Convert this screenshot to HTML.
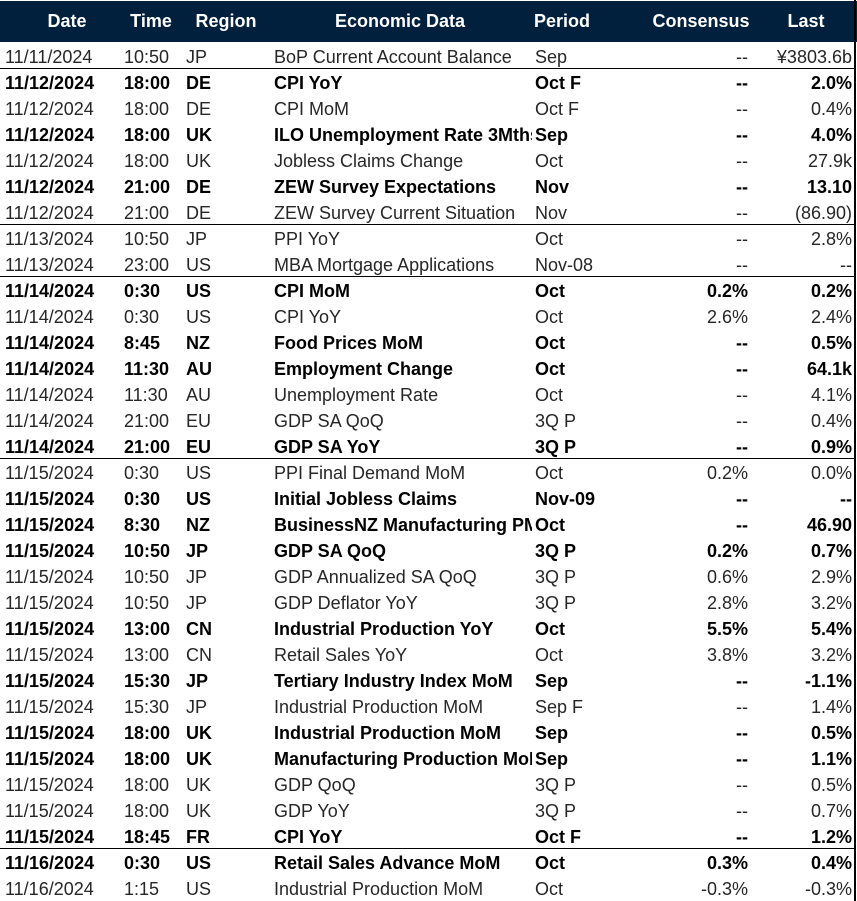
<!DOCTYPE html>
<html><head><meta charset="utf-8"><style>
body{margin:0;width:857px;height:901px;overflow:hidden;background:#fff;font-family:"Liberation Sans",Arial,sans-serif;}
.hdr{position:absolute;left:0;top:1px;width:857px;height:41px;background:#00203e;}
.h{position:absolute;top:11px;color:#fff;font-weight:bold;font-size:18px;white-space:nowrap;transform:translateX(-50%);}
.r{position:absolute;left:0;width:855px;height:26px;font-size:18px;color:#262626;}
.r.b{font-weight:bold;color:#000;}
.r div{position:absolute;top:5px;white-space:nowrap;overflow:hidden;}
.c0{left:5px;width:115px}.c1{left:124px;width:60px}.c2{left:186px;width:80px}
.c3{left:274px;width:258px}.c4{left:535px;width:110px}
.c5{right:107px;text-align:right}.c6{right:3px;text-align:right}
.sep{position:absolute;left:0;width:855px;height:1px;background:#000;}
.rb{position:absolute;left:854px;top:0;width:2px;height:901px;background:#000;}
</style></head><body>
<div class="hdr"></div>
<div class="h" style="left:67px">Date</div>
<div class="h" style="left:151px">Time</div>
<div class="h" style="left:226px">Region</div>
<div class="h" style="left:400px">Economic Data</div>
<div class="h" style="left:562px">Period</div>
<div class="h" style="left:701px">Consensus</div>
<div class="h" style="left:806px">Last</div>
<div id="rows"></div>
<div class="rb"></div>
<script>
var d=[
[0,"11/11/2024","10:50","JP","BoP Current Account Balance","Sep","--","¥3803.6b"],
[1,"11/12/2024","18:00","DE","CPI YoY","Oct F","--","2.0%"],
[0,"11/12/2024","18:00","DE","CPI MoM","Oct F","--","0.4%"],
[1,"11/12/2024","18:00","UK","ILO Unemployment Rate 3Mths","Sep","--","4.0%"],
[0,"11/12/2024","18:00","UK","Jobless Claims Change","Oct","--","27.9k"],
[1,"11/12/2024","21:00","DE","ZEW Survey Expectations","Nov","--","13.10"],
[0,"11/12/2024","21:00","DE","ZEW Survey Current Situation","Nov","--","(86.90)"],
[0,"11/13/2024","10:50","JP","PPI YoY","Oct","--","2.8%"],
[0,"11/13/2024","23:00","US","MBA Mortgage Applications","Nov-08","--","--"],
[1,"11/14/2024","0:30","US","CPI MoM","Oct","0.2%","0.2%"],
[0,"11/14/2024","0:30","US","CPI YoY","Oct","2.6%","2.4%"],
[1,"11/14/2024","8:45","NZ","Food Prices MoM","Oct","--","0.5%"],
[1,"11/14/2024","11:30","AU","Employment Change","Oct","--","64.1k"],
[0,"11/14/2024","11:30","AU","Unemployment Rate","Oct","--","4.1%"],
[0,"11/14/2024","21:00","EU","GDP SA QoQ","3Q P","--","0.4%"],
[1,"11/14/2024","21:00","EU","GDP SA YoY","3Q P","--","0.9%"],
[0,"11/15/2024","0:30","US","PPI Final Demand MoM","Oct","0.2%","0.0%"],
[1,"11/15/2024","0:30","US","Initial Jobless Claims","Nov-09","--","--"],
[1,"11/15/2024","8:30","NZ","BusinessNZ Manufacturing PMI","Oct","--","46.90"],
[1,"11/15/2024","10:50","JP","GDP SA QoQ","3Q P","0.2%","0.7%"],
[0,"11/15/2024","10:50","JP","GDP Annualized SA QoQ","3Q P","0.6%","2.9%"],
[0,"11/15/2024","10:50","JP","GDP Deflator YoY","3Q P","2.8%","3.2%"],
[1,"11/15/2024","13:00","CN","Industrial Production YoY","Oct","5.5%","5.4%"],
[0,"11/15/2024","13:00","CN","Retail Sales YoY","Oct","3.8%","3.2%"],
[1,"11/15/2024","15:30","JP","Tertiary Industry Index MoM","Sep","--","-1.1%"],
[0,"11/15/2024","15:30","JP","Industrial Production MoM","Sep F","--","1.4%"],
[1,"11/15/2024","18:00","UK","Industrial Production MoM","Sep","--","0.5%"],
[1,"11/15/2024","18:00","UK","Manufacturing Production MoM","Sep","--","1.1%"],
[0,"11/15/2024","18:00","UK","GDP QoQ","3Q P","--","0.5%"],
[0,"11/15/2024","18:00","UK","GDP YoY","3Q P","--","0.7%"],
[1,"11/15/2024","18:45","FR","CPI YoY","Oct F","--","1.2%"],
[1,"11/16/2024","0:30","US","Retail Sales Advance MoM","Oct","0.3%","0.4%"],
[0,"11/16/2024","1:15","US","Industrial Production MoM","Oct","-0.3%","-0.3%"]];
var h="";
d.forEach(function(r,i){
h+='<div class="r'+(r[0]?' b':'')+'" style="top:'+(42+26*i)+'px">';
for(var k=1;k<8;k++)h+='<div class="c'+(k-1)+'">'+r[k]+'</div>';
h+='</div>';});
[68,224,276,458,848].forEach(function(y){h+='<div class="sep" style="top:'+y+'px"></div>';});
document.getElementById("rows").innerHTML=h;
</script>
</body></html>
